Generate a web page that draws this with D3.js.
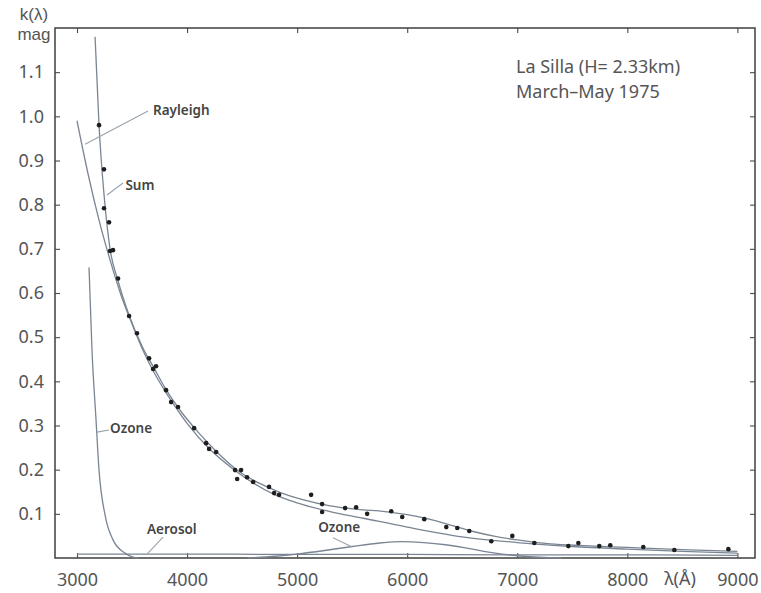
<!DOCTYPE html>
<html>
<head>
<meta charset="utf-8">
<script src="https://cdn.jsdelivr.net/npm/d3@7"></script>
<style>
  html, body { margin: 0; padding: 0; background: #fff; }
  svg { display: block; }
  text { font-family: "Noto Sans", "DejaVu Sans", sans-serif; }
</style>
</head>
<body>
<svg id="chart" width="761" height="593"></svg>
<script>
// Extinction coefficient k(λ) in magnitudes, La Silla, March–May 1975

const xTicks = [3000, 4000, 5000, 6000, 7000, 8000, 9000];
const xTickLabels = ["3000", "4000", "5000", "6000", "7000", "8000", "9000"];
const yTicks = [0.1, 0.2, 0.3, 0.4, 0.5, 0.6, 0.7, 0.8, 0.9, 1.0, 1.1];
const yTickLabels = ["0.1", "0.2", "0.3", "0.4", "0.5", "0.6", "0.7", "0.8", "0.9", "1.0", "1.1"];

// measured extinction values [wavelength Å, k mag]
const observed = [
  [3200, 0.980], [3245, 0.880], [3245, 0.792], [3291, 0.760], [3300, 0.695],
  [3327, 0.697], [3373, 0.633], [3473, 0.548], [3545, 0.509], [3655, 0.452],
  [3691, 0.428], [3718, 0.434], [3809, 0.380], [3855, 0.353], [3918, 0.342],
  [4064, 0.294], [4173, 0.260], [4200, 0.247], [4264, 0.240], [4436, 0.199],
  [4491, 0.199], [4455, 0.179], [4545, 0.183], [4600, 0.172], [4745, 0.161],
  [4791, 0.147], [4836, 0.143], [5127, 0.143], [5227, 0.122], [5227, 0.104],
  [5436, 0.113], [5536, 0.115], [5636, 0.100], [5855, 0.106], [5955, 0.093],
  [6155, 0.088], [6355, 0.070], [6455, 0.068], [6564, 0.061], [6764, 0.038],
  [6955, 0.050], [7155, 0.034], [7464, 0.027], [7555, 0.034], [7745, 0.027],
  [7845, 0.029], [8145, 0.025], [8427, 0.018], [8918, 0.020]
];

// model components
const rayleigh = [
  [3000, 0.990], [3100, 0.870], [3200, 0.765], [3300, 0.675], [3400, 0.595],
  [3500, 0.530], [3600, 0.470], [3700, 0.420], [3800, 0.378], [3900, 0.340],
  [4000, 0.305], [4200, 0.248], [4400, 0.205], [4600, 0.170], [4800, 0.143],
  [5000, 0.125], [5300, 0.105], [5600, 0.090], [6000, 0.070], [6500, 0.048],
  [7000, 0.035], [7500, 0.026], [8000, 0.020], [8500, 0.015], [9000, 0.011]
];

const sum = [
  [3164, 1.180], [3200, 0.980], [3250, 0.810], [3300, 0.700], [3370, 0.630],
  [3480, 0.545], [3600, 0.475], [3700, 0.430], [3800, 0.385], [3950, 0.330],
  [4100, 0.285], [4250, 0.245], [4450, 0.200], [4650, 0.170], [4850, 0.148],
  [5050, 0.132], [5300, 0.118], [5550, 0.110], [5800, 0.105], [6000, 0.098],
  [6200, 0.088], [6400, 0.074], [6600, 0.060], [6800, 0.049], [7000, 0.041],
  [7300, 0.032], [7600, 0.028], [8000, 0.024], [8500, 0.019], [9000, 0.015]
];

const ozoneUV = [
  [3109, 0.658], [3136, 0.471], [3173, 0.312], [3200, 0.199], [3255, 0.097],
  [3327, 0.041], [3436, 0.011], [3509, 0.002], [3560, 0.000]
];

const ozoneChappuis = [
  [4550, 0.000], [4800, 0.004], [5000, 0.009], [5250, 0.017], [5500, 0.026],
  [5750, 0.034], [5950, 0.037], [6150, 0.035], [6350, 0.030], [6550, 0.022],
  [6800, 0.011], [7050, 0.004], [7400, 0.000]
];

const aerosol = [
  [3000, 0.009], [4000, 0.009], [5000, 0.008], [6000, 0.008], [7000, 0.007],
  [8000, 0.007], [9000, 0.006]
];

// curve labels: text, label anchor, leader start, leader end (data units)
const curveLabels = [
  { text: "Rayleigh", at: [3690, 1.003], from: [3073, 0.937], to: [3645, 1.012] },
  { text: "Sum",      at: [3440, 0.833], from: [3273, 0.822], to: [3418, 0.849] },
  { text: "Ozone",    at: [3300, 0.283], from: [3182, 0.285], to: [3290, 0.290] },
  { text: "Aerosol",  at: [3636, 0.054], from: [3636, 0.009], to: [3782, 0.047] },
  { text: "Ozone",    at: [5191, 0.059], from: [5500, 0.025], to: [5327, 0.046] }
];

const titleLines = ["La Silla (H= 2.33km)", "March\u2013May 1975"];

const svg = d3.select("#chart");
const frame = { left: 55, top: 28, right: 755, bottom: 558 };

const x = d3.scaleLinear().domain([2800, 9160]).range([frame.left, frame.right]);
const y = d3.scaleLinear().domain([0, 1.2]).range([frame.bottom, frame.top]);

const axisColor = "#4a4a4a";
const curveColor = "#7a8593";
const textColor = "#555";

// frame
svg.append("rect")
  .attr("x", frame.left).attr("y", frame.top)
  .attr("width", frame.right - frame.left).attr("height", frame.bottom - frame.top)
  .attr("fill", "none").attr("stroke", axisColor).attr("stroke-width", 1.6);

// axes with inward ticks
const bottomAxis = d3.axisBottom(x).tickValues(xTicks)
  .tickFormat((d, i) => xTickLabels[i]).tickSizeInner(-5).tickSizeOuter(0).tickPadding(15);
const leftAxis = d3.axisLeft(y).tickValues(yTicks)
  .tickFormat((d, i) => yTickLabels[i]).tickSizeInner(-5).tickSizeOuter(0).tickPadding(11);
const topAxis = d3.axisTop(x).tickValues(xTicks).tickFormat("").tickSizeInner(-5).tickSizeOuter(0);
const rightAxis = d3.axisRight(y).tickValues(yTicks).tickFormat("").tickSizeInner(-5).tickSizeOuter(0);

function styleAxis(g) {
  g.select(".domain").remove();
  g.selectAll(".tick line").attr("stroke", axisColor).attr("stroke-width", 1.1);
  g.selectAll(".tick text").attr("fill", textColor)
    .style("font-size", "18px").style("font-family", "'Noto Sans', sans-serif");
}

svg.append("g").attr("transform", `translate(0,${frame.bottom})`).call(bottomAxis).call(styleAxis);
svg.append("g").attr("transform", `translate(${frame.left},0)`).call(leftAxis).call(styleAxis);
svg.append("g").attr("transform", `translate(0,${frame.top})`).call(topAxis).call(styleAxis);
svg.append("g").attr("transform", `translate(${frame.right},0)`).call(rightAxis).call(styleAxis);

// axis titles
svg.append("text").attr("x", 34).attr("y", 20).attr("text-anchor", "middle")
  .attr("fill", textColor).style("font-size", "17px")
  .style("font-family", "'Liberation Sans', sans-serif").text("k(\u03bb)");
svg.append("text").attr("x", 34).attr("y", 40).attr("text-anchor", "middle")
  .attr("fill", textColor).style("font-size", "17px")
  .style("font-family", "'Liberation Sans', sans-serif").text("mag");
svg.append("text").attr("x", 680).attr("y", 585).attr("text-anchor", "middle")
  .attr("fill", textColor).style("font-size", "18px").text("\u03bb(\u00c5)");

// title block
svg.append("g").selectAll("text").data(titleLines).join("text")
  .attr("x", 516).attr("y", (d, i) => 73 + i * 25)
  .attr("fill", textColor).style("font-size", "18px").text(d => d);

// model curves
const line = d3.line().x(d => x(d[0])).y(d => y(d[1])).curve(d3.curveMonotoneX);
const curves = [rayleigh, sum, ozoneUV, ozoneChappuis, aerosol];
svg.append("g").selectAll("path").data(curves).join("path")
  .attr("d", line)
  .attr("fill", "none")
  .attr("stroke", curveColor)
  .attr("stroke-width", 1.3);

// observed points
svg.append("g").selectAll("circle").data(observed).join("circle")
  .attr("cx", d => x(d[0])).attr("cy", d => y(d[1]))
  .attr("r", 2.3).attr("fill", "#1e1e1e");

// curve labels with leader lines
const labels = svg.append("g");
labels.selectAll("line").data(curveLabels).join("line")
  .attr("x1", d => x(d.from[0])).attr("y1", d => y(d.from[1]))
  .attr("x2", d => x(d.to[0])).attr("y2", d => y(d.to[1]))
  .attr("stroke", "#9aa3ad").attr("stroke-width", 1.1);
labels.selectAll("text").data(curveLabels).join("text")
  .attr("x", d => x(d.at[0])).attr("y", d => y(d.at[1]))
  .attr("fill", "#444").style("font-size", "13.5px").style("font-weight", "600")
  .text(d => d.text);
</script>
</body>
</html>
